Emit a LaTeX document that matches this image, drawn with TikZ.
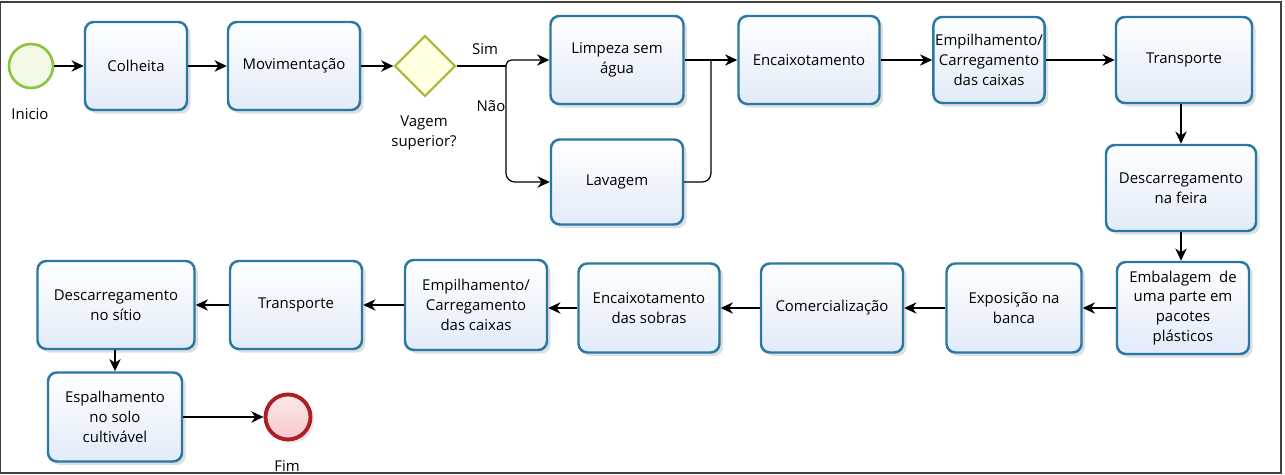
\documentclass[tikz,border=0pt]{standalone}
\usepackage{fontspec}
\setmainfont{Open Sans}
\usepackage{tikz}
\usetikzlibrary{arrows.meta,shapes.geometric,shadows,positioning}

\definecolor{azulborda}{RGB}{40,120,165}
\definecolor{azulfundo}{RGB}{226,235,249}
\definecolor{verdeborda}{RGB}{140,196,64}
\definecolor{verdefundo}{RGB}{242,249,228}
\definecolor{oliva}{RGB}{180,185,60}
\definecolor{amarelo}{RGB}{255,255,226}
\definecolor{vermelho}{RGB}{176,30,35}
\definecolor{rosa}{RGB}{246,200,200}

\tikzset{
  tarefa/.style={draw=azulborda, line width=1.4pt, rounded corners=5pt,
    top color=white, bottom color=azulfundo, align=center, inner sep=1pt,
    drop shadow={opacity=0.25, shadow xshift=2pt, shadow yshift=-2pt}},
  tam/.style 2 args={minimum width=#1*0.02cm, minimum height=#2*0.02cm},
  seta/.style={-{Stealth[length=7pt,width=6.5pt]}, line width=0.7pt},
  rotulo/.style={align=center, inner sep=0pt}
}

\begin{document}
\begin{tikzpicture}[x=0.02cm, y=-0.02cm, font=\fontsize{8.5}{11.3}\selectfont]
    \useasboundingbox (0,0) rectangle (1285,475);
    \draw[line width=1.2pt, black!75] (0,2) rectangle (1281,473);

    % linha de cima
    \node[circle, draw=verdeborda, line width=1.5pt, fill=verdefundo, minimum size=0.88cm] (inicio) at (31,66) {};
    \node[rotulo] (tinicio) at (30,114) {Inicio};
    \node[tarefa, tam={102}{88}] (colheita) at (136,66) {Colheita};
    \node[tarefa, tam={132}{88}] (movim) at (294,66) {Movimentação};
    \node[diamond, aspect=1, draw=oliva, line width=1.3pt, fill=amarelo, minimum size=1.22cm, inner sep=0pt] (gate) at (425,66) {};
    \node[rotulo] (tgate) at (424,133) {Vagem\\superior?};
    \node[tarefa, tam={133}{88}] (limpeza) at (617,60) {Limpeza sem\\água};
    \node[tarefa, tam={132}{85}] (lavagem) at (617,182) {Lavagem};
    \node[tarefa, tam={141}{88}] (encaix) at (809,60) {Encaixotamento};
    \node[tarefa, tam={108}{86}] (empilha) at (989,60) {Empilhamento/\\Carregamento\\das caixas};
    \node[tarefa, tam={136}{86}] (transp) at (1184,60) {Transporte};

    % descida e linha de baixo
    \node[tarefa, tam={150}{86}] (descfeira) at (1181,188) {Descarregamento\\na feira};
    \node[tarefa, tam={132}{92}] (embala) at (1183,308) {Embalagem\ \ de\\uma parte em\\pacotes\\plásticos};
    \node[tarefa, tam={135}{89}] (expos) at (1014,308) {Exposição na\\banca};
    \node[tarefa, tam={142}{89}] (comerc) at (832,308) {Comercialização};
    \node[tarefa, tam={141}{89}] (sobras) at (649,308) {Encaixotamento\\das sobras};
    \node[tarefa, tam={142}{90}] (empilha2) at (476,305) {Empilhamento/\\Carregamento\\das caixas};
    \node[tarefa, tam={132}{88}] (transp2) at (296,305) {Transporte};
    \node[tarefa, tam={157}{88}] (descsitio) at (116,305) {Descarregamento\\no sítio};
    \node[tarefa, tam={134}{89}] (espalha) at (115,417) {Espalhamento\\no solo\\cultivável};
    \node[circle, draw=vermelho, line width=2.2pt, top color=rosa!40, bottom color=rosa, minimum size=0.9cm,
      drop shadow={opacity=0.2, shadow xshift=2pt, shadow yshift=-2pt}] (fim) at (288,417) {};
    \node[rotulo] (tfim) at (287,466) {Fim};

    % conectores
    \draw[seta] (inicio) -- (colheita);
    \draw[seta] (colheita) -- (movim);
    \draw[seta] (movim) -- (gate);
    \coordinate (ramo) at (506,66);
    \coordinate (juncao) at (711,60);
    \draw[line width=0.7pt] (gate.east) -- (ramo);
    \draw[seta, rounded corners=3pt] (ramo) |- (limpeza.west);
    \draw[seta, rounded corners=5pt] (ramo) |- (lavagem.west);
    \node[rotulo] (tsim) at (485,49) {Sim};
    \node[rotulo] (tnao) at (491,106) {Não};
    \draw[seta] (limpeza) -- (encaix);
    \draw[line width=0.7pt, rounded corners=5pt] (lavagem.east) -| (juncao);
    \draw[seta] (encaix) -- (empilha);
    \draw[seta] (empilha) -- (transp);
    \draw[seta] (transp.south -| descfeira.north) -- (descfeira.north);
    \draw[seta] (descfeira.south) -- (descfeira.south |- embala.north);
    \draw[seta] (embala) -- (expos);
    \draw[seta] (expos) -- (comerc);
    \draw[seta] (comerc) -- (sobras);
    \draw[seta] (sobras.west) -- (sobras.west -| empilha2.east);
    \draw[seta] (empilha2) -- (transp2);
    \draw[seta] (transp2) -- (descsitio);
    \draw[seta] (descsitio.south -| espalha.north) -- (espalha.north);
    \draw[seta] (espalha) -- (fim);
\end{tikzpicture}
\end{document}
